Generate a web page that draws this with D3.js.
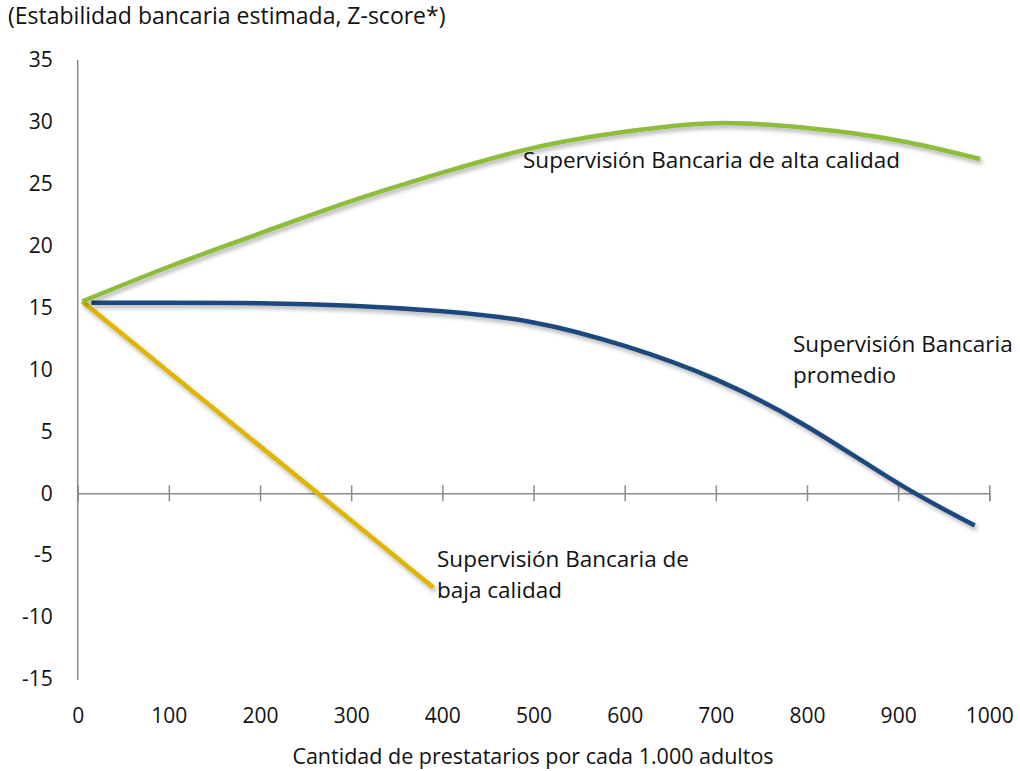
<!DOCTYPE html>
<html>
<head>
<meta charset="utf-8">
<script src="https://cdn.jsdelivr.net/npm/d3@7"></script>
<style>
  body { margin: 0; background: #fff; }
  text { font-family: "Open Sans", Lato, sans-serif; fill: #111; }
</style>
</head>
<body>
<div id="chart"></div>
<script>
  // Data
  var xTicks = [0, 100, 200, 300, 400, 500, 600, 700, 800, 900, 1000]
  var yTicks = [-15, -10, -5, 0, 5, 10, 15, 20, 25, 30, 35]

  var altaX = [5, 100, 200, 300, 400, 500, 600, 700, 800, 900, 990]
  var altaY = [15.5, 18.3, 21.0, 23.6, 25.9, 27.9, 29.2, 29.9, 29.5, 28.5, 27.0]

  var promX = [15, 100, 200, 300, 400, 500, 600, 700, 800, 900, 984]
  var promY = [15.4, 15.4, 15.35, 15.15, 14.7, 13.8, 11.9, 9.2, 5.4, 0.8, -2.6]

  var bajaX = [5, 390]
  var bajaY = [15.5, -7.6]

  var width = 1020
  var height = 771
  var tickSize = "21px"

  var svg = d3.select("#chart")
    .append("svg")
    .attr("width", width)
    .attr("height", height)

  // drop shadow under the lines
  var filter = svg.append("defs").append("filter")
    .attr("id", "shadow")
    .attr("x", "-10%").attr("y", "-10%")
    .attr("width", "120%").attr("height", "130%")
  filter.append("feDropShadow")
    .attr("dx", 2).attr("dy", 3)
    .attr("stdDeviation", 2)
    .attr("flood-color", "#000")
    .attr("flood-opacity", 0.3)

  var x = d3.scaleLinear().domain([0, 1000]).range([77.7, 989.3])
  var y = d3.scaleLinear().domain([-15, 35]).range([679, 60])

  // Title
  svg.append("text")
    .attr("x", 8)
    .attr("y", 24)
    .style("font-size", "23px")
    .text("(Estabilidad bancaria estimada, Z-score*)")

  // Y axis (labels only, line drawn by hand)
  var yAxis = svg.append("g")
    .attr("transform", "translate(" + x(0) + ",0)")
    .call(d3.axisLeft(y).tickValues(yTicks).tickSize(0).tickPadding(25)
      .tickFormat(function(d) { return String(d) }))
  yAxis.select(".domain").remove()
  yAxis.selectAll("text")
    .style("font-size", tickSize)
    .style("font-family", "'Open Sans', sans-serif")
    .attr("fill", "#111")

  svg.append("line")
    .attr("x1", x(0)).attr("x2", x(0))
    .attr("y1", y(35)).attr("y2", y(-15) + 1)
    .attr("stroke", "#8c8c8c")
    .attr("stroke-width", 1.5)

  // X axis line at zero with crossing ticks
  var xAxis = svg.append("g")
    .attr("transform", "translate(0," + y(0) + ")")
    .call(d3.axisBottom(x).tickValues(xTicks).tickSize(8).tickFormat(""))
  xAxis.select(".domain")
    .attr("stroke", "#8c8c8c")
    .attr("stroke-width", 1.5)
  xAxis.selectAll(".tick line")
    .attr("y1", -8)
    .attr("y2", 8)
    .attr("stroke", "#8c8c8c")
    .attr("stroke-width", 1.5)

  // X tick labels under the plot
  var xLabels = svg.append("g")
    .attr("transform", "translate(0," + y(-15) + ")")
    .call(d3.axisBottom(x).tickValues(xTicks).tickSize(0).tickPadding(29)
      .tickFormat(function(d) { return String(d) }))
  xLabels.select(".domain").remove()
  xLabels.selectAll("text")
    .style("font-size", tickSize)
    .style("font-family", "'Open Sans', sans-serif")
    .attr("fill", "#111")

  // X axis title
  svg.append("text")
    .attr("x", 533)
    .attr("y", 764)
    .attr("text-anchor", "middle")
    .style("font-size", "21.5px")
    .text("Cantidad de prestatarios por cada 1.000 adultos")

  // Lines
  var line = d3.line()
    .x(function(d) { return x(d[0]) })
    .y(function(d) { return y(d[1]) })
    .curve(d3.curveNatural)

  var series = [
    { xs: bajaX, ys: bajaY, color: "#e0b400" },
    { xs: promX, ys: promY, color: "#1f497d" },
    { xs: altaX, ys: altaY, color: "#8dbd3a" }
  ]

  series.forEach(function(s) {
    svg.append("path")
      .datum(d3.zip(s.xs, s.ys))
      .attr("d", line)
      .attr("fill", "none")
      .attr("stroke", s.color)
      .attr("stroke-width", 4.5)
      .attr("filter", "url(#shadow)")
  })

  // Series labels
  function label(lines, lx, ly) {
    var t = svg.append("text")
      .attr("x", lx)
      .attr("y", ly)
      .style("font-size", "22.5px")
    lines.forEach(function(l, i) {
      t.append("tspan")
        .attr("x", lx)
        .attr("dy", i === 0 ? 0 : 31)
        .text(l)
    })
  }

  label(["Supervisión Bancaria de alta calidad"], 523, 168)
  label(["Supervisión Bancaria", "promedio"], 793, 352)
  label(["Supervisión Bancaria de", "baja calidad"], 437, 567)
</script>
</body>
</html>
